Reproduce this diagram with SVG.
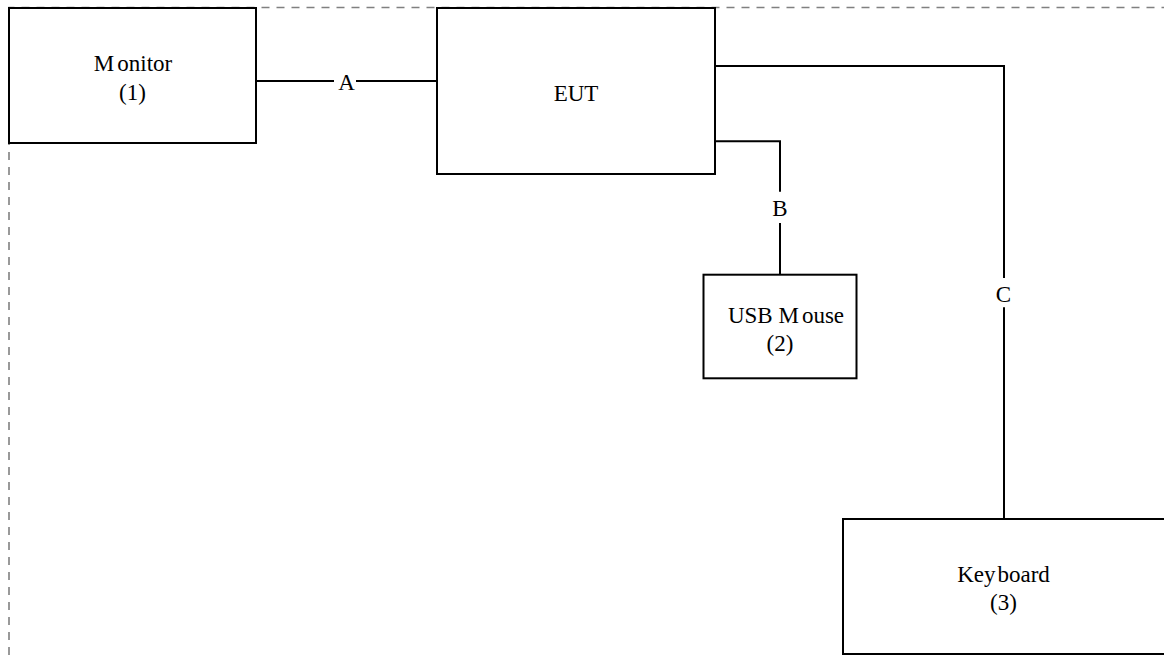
<svg xmlns="http://www.w3.org/2000/svg" width="1164" height="655" viewBox="0 0 1164 655">
<style>
.box{fill:#fff;stroke:#000;stroke-width:2}
.wire{fill:none;stroke:#000;stroke-width:2}
.t{font-family:"Liberation Serif","Times New Roman",serif;font-size:23px;fill:#000;text-anchor:middle}
.border{fill:none;stroke:#808080;stroke-width:1.6;stroke-dasharray:8 7}
</style>
<rect width="1164" height="655" fill="#fff"/>
<path class="border" d="M9,655 V7.5 H1164"/>
<g id="connectors">
<path class="wire" d="M256,81 H334 M356,81 H437"/>
<text class="t" x="346.5" y="90">A</text>
<path class="wire" d="M715,141.3 H780 V191.7 M780,223 V274.7"/>
<text class="t" x="780" y="216">B</text>
<path class="wire" d="M715,66 H1004 V278 M1004,307.3 V519"/>
<text class="t" x="1003.5" y="301.7">C</text>
</g>
<g id="monitor">
<rect class="box" x="9" y="8" width="247" height="135"/>
<text class="t" x="133" y="70.7">M<tspan dx="3">onitor</tspan></text>
<text class="t" x="132.5" y="100">(1)</text>
</g>
<g id="eut">
<rect class="box" x="437" y="8" width="278" height="166"/>
<text class="t" x="576" y="100.7">EUT</text>
</g>
<g id="mouse">
<rect class="box" x="703.5" y="274.7" width="153" height="103.6"/>
<text class="t" x="786" y="323.3">USB M<tspan dx="3">ouse</tspan></text>
<text class="t" x="780" y="351">(2)</text>
</g>
<g id="keyboard">
<rect class="box" x="843" y="519" width="330" height="135"/>
<text class="t" x="1003.5" y="581.7">Key<tspan dx="2">board</tspan></text>
<text class="t" x="1003.5" y="610">(3)</text>
</g>
</svg>
